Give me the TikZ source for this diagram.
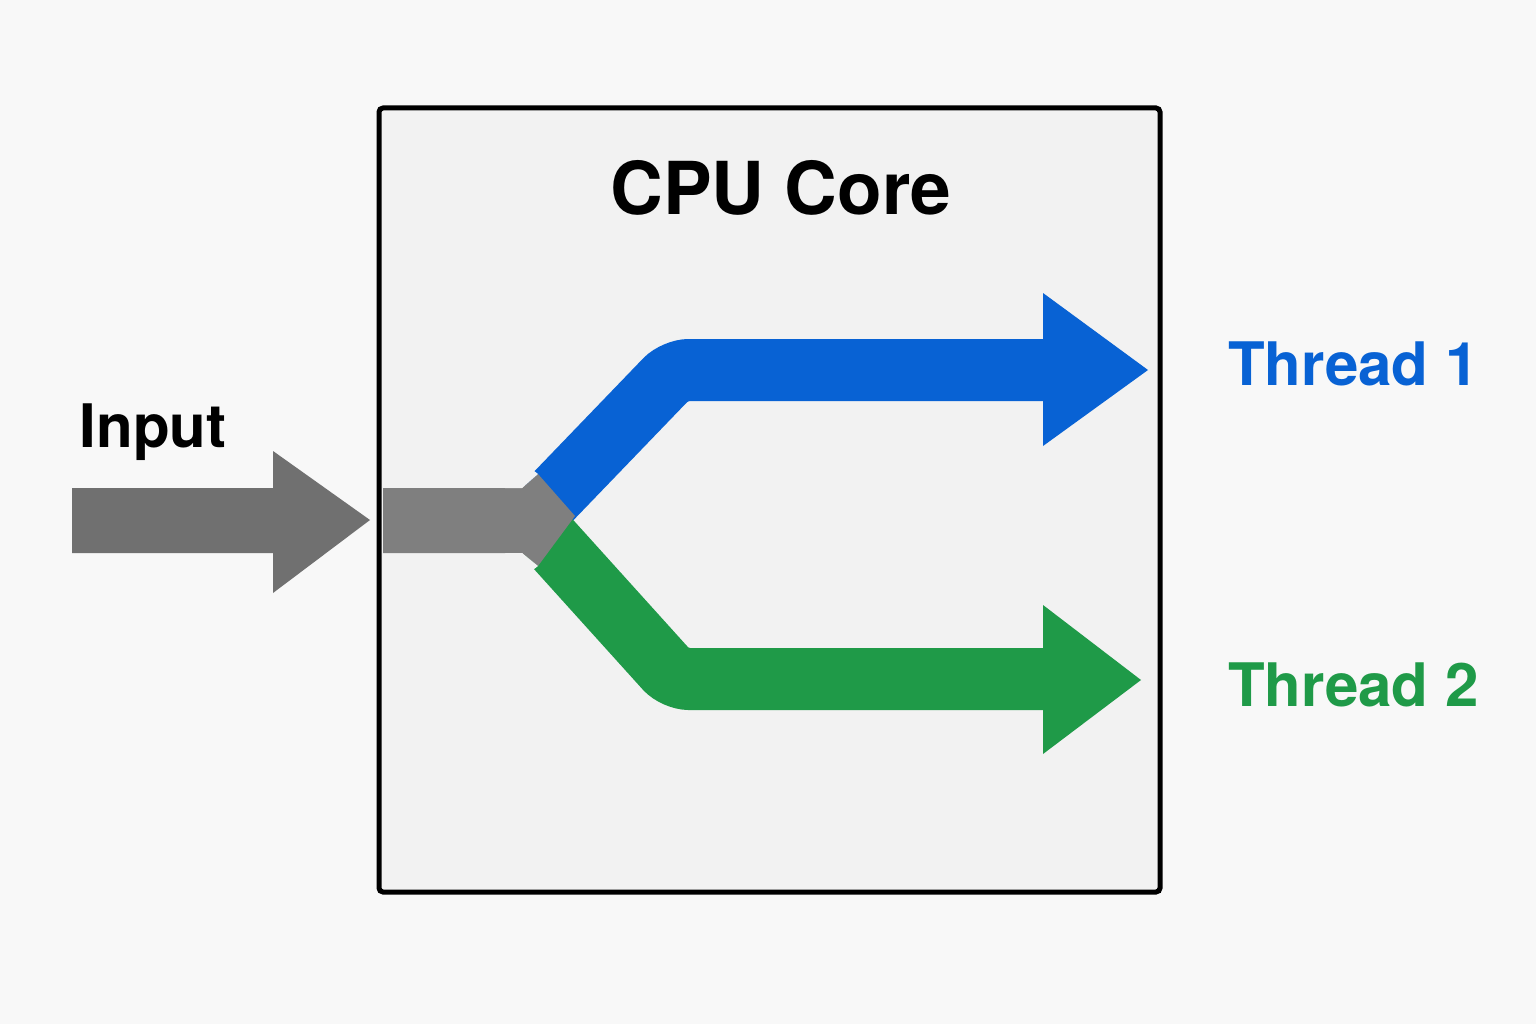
\documentclass[tikz,border=0pt]{standalone}
\usepackage{fontspec}
\setmainfont{TeX Gyre Heros}
\definecolor{bg}{HTML}{F8F8F8}
\definecolor{boxc}{HTML}{F2F2F2}
\definecolor{gin}{HTML}{707070}
\definecolor{gcore}{HTML}{7F7F7F}
\definecolor{tblue}{HTML}{0862D4}
\definecolor{tgreen}{HTML}{1F9A48}
\begin{document}
\begin{tikzpicture}[x=1pt,y=-1pt,
  lbl/.style={font=\bfseries\fontsize{60}{66}\selectfont,inner sep=0pt},
  band/.style={line width=62pt,rounded corners=14pt}]
\fill[bg] (0,0) rectangle (1536,1024);
\useasboundingbox (0,0) rectangle (1536,1024);
\node[draw=black,line width=5pt,fill=boxc,rounded corners=4pt,minimum width=781pt,minimum height=784pt,inner sep=0pt] (core) at (769.5,500) {};
\node[lbl,font=\bfseries\fontsize{73}{80}\selectfont] (title) at (781,188) {CPU Core};
% input arrow
\fill[gin] (72,488) -- (273,488) -- (273,451) -- (370,520) -- (273,593) -- (273,553) -- (72,553) -- cycle;
\node[lbl] (in) at (153,432) {Input};
% bands
\draw[band,tblue] (545,505) -- (675,370) -- (1045,370);
\fill[tblue] (1043,293) -- (1148,370) -- (1043,446) -- cycle;
\draw[band,tgreen] (545,535) -- (675,679) -- (1045,679);
\fill[tgreen] (1043,605) -- (1141,680) -- (1043,754) -- cycle;
\fill[gcore] (383,488) -- (522,488) -- (538,474) -- (575,516) -- (538,566) -- (522,553) -- (383,553) -- cycle;
\fill[boxc] (505,553) -- (522,553) -- (538,566) -- (520,580) -- cycle;
\fill[boxc] (505,488) -- (522,488) -- (538,474) -- (520,460) -- cycle;
\node[lbl,text=tblue,anchor=west] (t1) at (1228,364) {Thread 1};
\node[lbl,text=tgreen,anchor=west] (t2) at (1228,685) {Thread 2};
\end{tikzpicture}
\end{document}
